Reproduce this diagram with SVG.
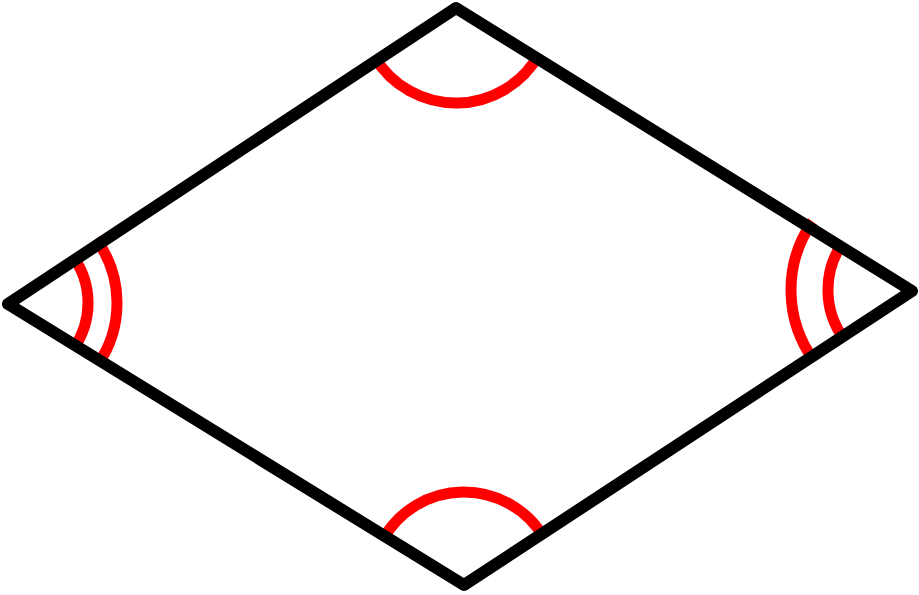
<svg xmlns="http://www.w3.org/2000/svg" width="919" height="595" viewBox="0 0 919 595">
<style>
.arc{fill:none;stroke:#ff0000;stroke-width:11}
.edge{fill:none;stroke:#000;stroke-width:12;stroke-linejoin:round}
</style>
<rect width="919" height="595" fill="#fff"/>
<g id="angle-marks">
<path class="arc" d="M539.2,53.8 A95,95 0 0 1 374.1,56.2"/>
<path class="arc" d="M382.3,540.5 A93,93 0 0 1 544.3,538.1"/>
<path class="arc" d="M72.6,256.1 A79,79 0 0 1 73.9,348.1"/>
<path class="arc" d="M95.9,238.9 A108,108 0 0 1 97.7,364.6"/>
<path class="arc" d="M844.2,339.3 A83,83 0 0 1 842.8,242.6"/>
<path class="arc" d="M814.4,361.2 A120,120 0 0 1 812.5,221.5"/>
</g>
<g id="rhombus">
<polygon class="edge" points="456,8 912,291 464,585 8,304"/>
</g>
</svg>
